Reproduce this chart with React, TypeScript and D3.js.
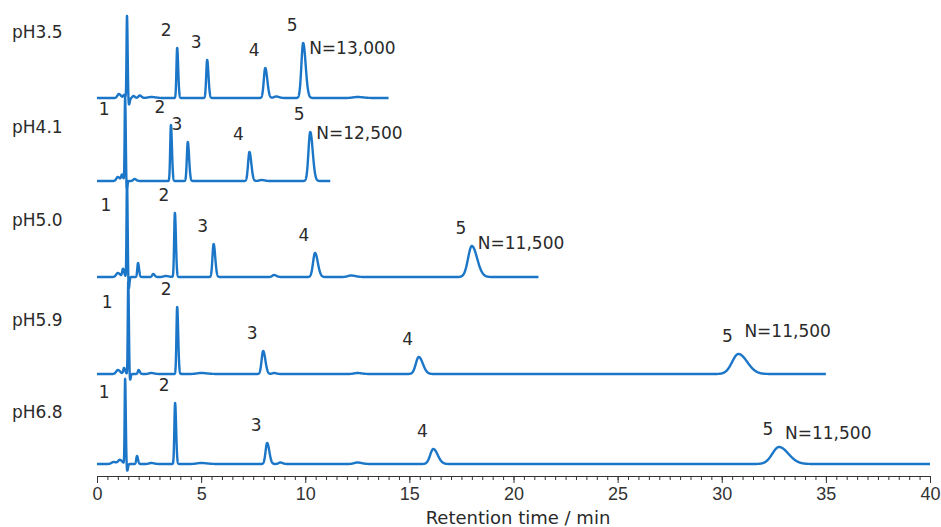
import React, { useEffect, useRef } from 'react';
import * as d3 from 'd3';

// run conditions (top to bottom)
const phLabels = ['pH3.5', 'pH4.1', 'pH5.0', 'pH5.9', 'pH6.8'];
const plateCounts = ['N=13,000', 'N=12,500', 'N=11,500', 'N=11,500', 'N=11,500'];
const runEnd = [14.0, 11.2, 21.2, 35.0, 40.0];
// baseline offset of each trace, in signal units
const offsets = [378, 295, 199, 102, 12];

// peaks: t = retention time (min), h = height, w = width (min), id = compound
const peaks35 = [
    { t: 1.05, h: 4, w: 0.07 }, { t: 1.3, h: 3, w: 0.04 }, { t: 1.44, h: 82, w: 0.022 },
    { t: 1.53, h: -7, w: 0.03 }, { t: 1.75, h: 2, w: 0.05 }, { t: 2.05, h: 2.5, w: 0.06 },
    { t: 2.6, h: 1, w: 0.15 }, { t: 3.85, h: 50, w: 0.035, id: '2' }, { t: 5.29, h: 38, w: 0.045, id: '3' },
    { t: 8.08, h: 30, w: 0.07, id: '4' }, { t: 8.6, h: 1.5, w: 0.1 }, { t: 9.9, h: 55, w: 0.085, id: '5' },
    { t: 12.5, h: 1, w: 0.2 }
];
const peaks41 = [
    { t: 1.0, h: 4, w: 0.07 }, { t: 1.2, h: 6, w: 0.04 }, { t: 1.35, h: 84, w: 0.022, id: '1' },
    { t: 1.42, h: -10, w: 0.025 }, { t: 1.8, h: 2, w: 0.06 }, { t: 3.55, h: 56, w: 0.035, id: '2' },
    { t: 4.36, h: 39, w: 0.045, id: '3' }, { t: 7.32, h: 29, w: 0.065, id: '4' }, { t: 7.9, h: 1, w: 0.1 },
    { t: 10.24, h: 49, w: 0.085, id: '5' }
];
const peaks50 = [
    { t: 1.0, h: 4, w: 0.08 }, { t: 1.25, h: 8, w: 0.04 }, { t: 1.44, h: 96, w: 0.022, id: '1' },
    { t: 1.52, h: -13, w: 0.025 }, { t: 1.97, h: 14, w: 0.035 }, { t: 2.7, h: 3, w: 0.05 },
    { t: 3.3, h: 1, w: 0.1 }, { t: 3.74, h: 64, w: 0.035, id: '2' }, { t: 5.6, h: 33, w: 0.055, id: '3' },
    { t: 8.5, h: 2, w: 0.08 }, { t: 10.47, h: 24, w: 0.095, id: '4' }, { t: 12.2, h: 1.5, w: 0.15 },
    { t: 18.0, h: 31, w: 0.18, id: '5' }
];
const peaks59 = [
    { t: 1.0, h: 4, w: 0.08 }, { t: 1.3, h: 6, w: 0.04 }, { t: 1.5, h: 92, w: 0.022, id: '1' },
    { t: 1.58, h: -7, w: 0.025 }, { t: 2.0, h: 4, w: 0.04 }, { t: 2.6, h: 1, w: 0.1 },
    { t: 3.85, h: 67, w: 0.035, id: '2' }, { t: 5.0, h: 1, w: 0.2 }, { t: 7.98, h: 23, w: 0.075, id: '3' },
    { t: 8.5, h: 1, w: 0.08 }, { t: 12.5, h: 1, w: 0.15 }, { t: 15.45, h: 17, w: 0.14, id: '4' },
    { t: 30.8, h: 20, w: 0.3, id: '5' }
];
const peaks68 = [
    { t: 0.8, h: 2, w: 0.1 }, { t: 1.1, h: 4, w: 0.08 }, { t: 1.35, h: 85, w: 0.022, id: '1' },
    { t: 1.45, h: -7, w: 0.025 }, { t: 1.92, h: 8, w: 0.035 }, { t: 2.6, h: 1, w: 0.1 },
    { t: 3.75, h: 61, w: 0.035, id: '2' }, { t: 5.0, h: 1, w: 0.2 }, { t: 8.17, h: 21, w: 0.075, id: '3' },
    { t: 8.8, h: 1.5, w: 0.08 }, { t: 12.5, h: 1.5, w: 0.15 }, { t: 16.15, h: 15, w: 0.15, id: '4' },
    { t: 32.75, h: 17, w: 0.32, id: '5' }
];
const peakTables = [peaks35, peaks41, peaks50, peaks59, peaks68];

const majorTicks = [0, 5, 10, 15, 20, 25, 30, 35, 40];

// label layout (pixels)
const phLabelDy = [-66, -54, -57, -54, -52];
const nLabelDy = [5, 1, -3, -23, -14];

const App = () => {
    const svgRef = useRef(null);

    useEffect(() => {
        if (!svgRef.current) return;
        d3.select(svgRef.current).selectAll('*').remove();

        const width = 941;
        const height = 527;
        const color = '#1b76c8';

        const svg = d3.select(svgRef.current)
            .attr('width', width)
            .attr('height', height);

        const x = d3.scaleLinear().domain([0, 40]).range([97, 930]);
        const y = d3.scaleLinear().domain([0, 470]).range([476, 6]);

        // detector signal from the peak table (tailing on the back side)
        const signal = (pk, t) => pk.reduce((s, p) => {
            const w = t < p.t ? p.w : p.w * 1.4;
            const z = (t - p.t) / w;
            return s + p.h * Math.exp(-0.5 * z * z);
        }, 0);

        const line = d3.line()
            .x(d => x(d[0]))
            .y(d => y(d[1]));

        const text = (sel, size) => sel
            .style('font-family', '"DejaVu Sans", sans-serif')
            .style('font-size', size + 'px')
            .attr('fill', '#2a2a2a')
            .attr('dominant-baseline', 'central');

        // draw bottom trace first so upper traces overlap like the original
        peakTables.forEach((pk, i) => {
            const off = offsets[i];
            const pts = d3.range(0, runEnd[i] + 0.0001, 0.004).map(t => [t, off + signal(pk, t)]);

            svg.append('path')
                .datum(pts)
                .attr('fill', 'none')
                .attr('stroke', color)
                .attr('stroke-width', 2.4)
                .attr('stroke-linejoin', 'round')
                .attr('d', line);

            // condition label
            svg.append('text')
                .attr('x', 12)
                .attr('y', y(off) + phLabelDy[i])
                .call(text, 17)
                .text(phLabels[i]);

            // peak numbers
            pk.filter(p => p.id).forEach(p => {
                const px = x(p.t);
                const top = y(off + signal(pk, p.t));
                const lx = p.id === '1' ? px - 21 : px - 11;
                const ly = p.id === '1' ? y(off) - 72 : top - 18;
                svg.append('text')
                    .attr('x', lx)
                    .attr('y', ly)
                    .attr('text-anchor', 'middle')
                    .call(text, 17)
                    .text(p.id);

                if (p.id === '5') {
                    svg.append('text')
                        .attr('x', px + 6)
                        .attr('y', top + nLabelDy[i])
                        .call(text, 17)
                        .text(plateCounts[i]);
                }
            });
        });

        // x axis: minor ticks every 0.5 min, major every 5 min
        const axisY = 476;
        svg.append('g')
            .attr('transform', `translate(0, ${axisY})`)
            .call(d3.axisBottom(x).tickValues(d3.range(0, 40.01, 0.5)).tickSize(4).tickFormat(''))
            .call(g => g.select('.domain').remove())
            .selectAll('line')
            .attr('stroke', '#333');

        const ax = svg.append('g')
            .attr('transform', `translate(0, ${axisY})`)
            .call(d3.axisBottom(x).tickValues(majorTicks).tickSize(7).tickSizeOuter(0).tickPadding(4));
        ax.select('.domain').attr('stroke', '#333').attr('stroke-width', 1.2);
        ax.selectAll('line').attr('stroke', '#333');
        ax.selectAll('text')
            .style('font-family', '"Liberation Sans", sans-serif')
            .style('font-size', '18px')
            .attr('fill', '#333');

        svg.append('text')
            .attr('x', 518)
            .attr('y', 517)
            .attr('text-anchor', 'middle')
            .call(text, 18)
            .text('Retention time / min');
    }, []);

    return (
        <svg ref={svgRef} style={{ position: 'absolute', left: 0, top: 0, background: '#fff' }}></svg>
    );
};

export default App;
